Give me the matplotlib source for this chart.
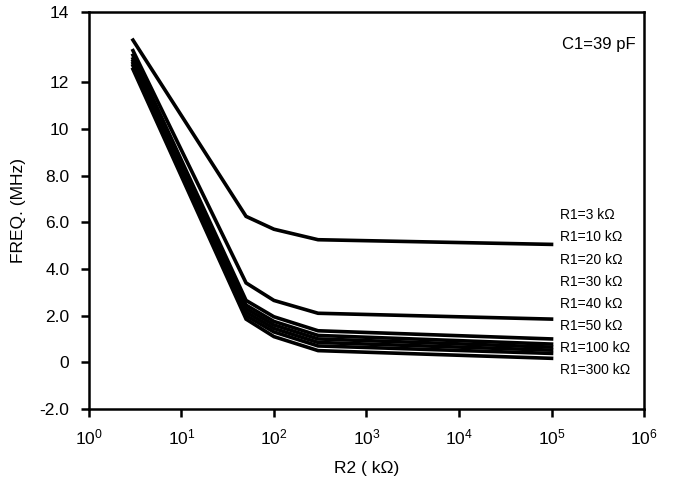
import matplotlib.pyplot as plt

plt.rcParams['font.family'] = ['Liberation Sans', 'DejaVu Sans']

r2 = [3, 50, 100, 300, 1e5]
r1_labels = ['R1=3 kΩ', 'R1=10 kΩ', 'R1=20 kΩ', 'R1=30 kΩ',
             'R1=40 kΩ', 'R1=50 kΩ', 'R1=100 kΩ', 'R1=300 kΩ']
freq_3k = [13.8, 6.25, 5.7, 5.25, 5.05]
freq_10k = [13.35, 3.4, 2.65, 2.1, 1.85]
freq_20k = [13.15, 2.65, 1.95, 1.35, 1.0]
freq_30k = [13.0, 2.45, 1.75, 1.15, 0.78]
freq_40k = [12.9, 2.3, 1.6, 1.0, 0.65]
freq_50k = [12.8, 2.15, 1.45, 0.85, 0.52]
freq_100k = [12.7, 2.0, 1.3, 0.7, 0.38]
freq_300k = [12.55, 1.85, 1.1, 0.5, 0.17]

ytick_vals = [-2, 0, 2, 4, 6, 8, 10, 12, 15.0]
ytick_labels = ['-2.0', '0', '2.0', '4.0', '6.0', '8.0', '10', '12', '14']

fig = plt.figure(figsize=(6.73, 4.84), dpi=100)
ax = fig.add_axes([0.132, 0.155, 0.825, 0.82])

for f in [freq_3k, freq_10k, freq_20k, freq_30k, freq_40k, freq_50k, freq_100k, freq_300k]:
    ax.plot(r2, f, color='black', linewidth=2.6, solid_joinstyle='miter')

ax.set_xscale('log')
ax.set_xlim(1, 1e6)
ax.set_ylim(-2, 15.0)
ax.set_yticks(ytick_vals)
ax.set_yticklabels(ytick_labels)
ax.set_xticks([1, 10, 100, 1e3, 1e4, 1e5, 1e6])
ax.minorticks_off()
ax.tick_params(direction='out', length=6, width=1.8, labelsize=12.5)
ax.tick_params(axis='y', pad=8)
ax.tick_params(axis='x', pad=7)

for s in ax.spines.values():
    s.set_linewidth(1.8)

ax.set_xlabel('R2 ( kΩ)', fontsize=12.5, labelpad=10)
ax.set_ylabel('FREQ. (MHz)', fontsize=12.5, labelpad=10)

ax.text(1.3e5, 13.6, 'C1=39 pF', fontsize=12, va='center')
for i, lab in enumerate(r1_labels):
    ax.text(1.25e5, 6.3 - i * 0.95, lab, fontsize=10, va='center')

plt.savefig('out.png', dpi=100)
